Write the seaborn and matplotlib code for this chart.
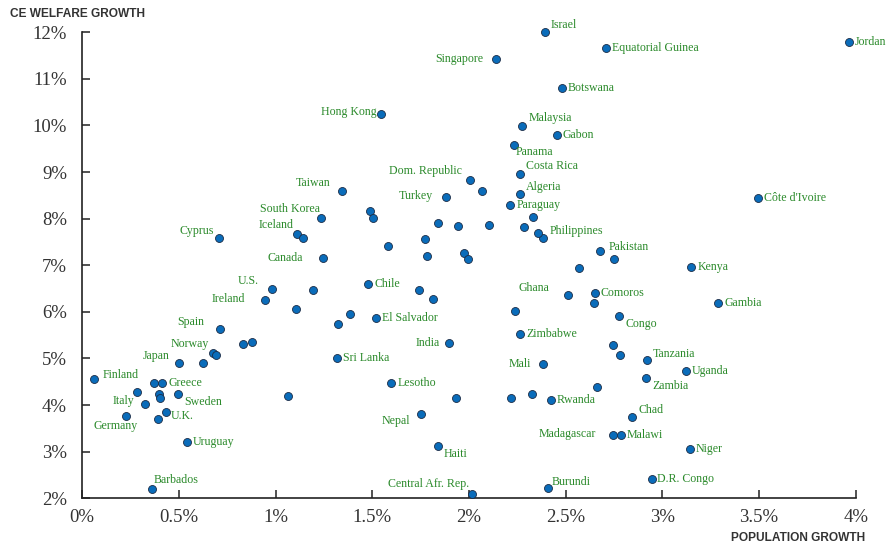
import numpy as np
import pandas as pd
import matplotlib
matplotlib.use('Agg')
import matplotlib.pyplot as plt
import seaborn as sns

# labelled countries: population growth (%), CE welfare growth (%)
countries = ['Israel', 'Equatorial Guinea', 'Jordan', 'Singapore', 'Botswana', 'Hong Kong',
             'Malaysia', 'Gabon', 'Panama', 'Costa Rica', 'Dom. Republic', 'Algeria', 'Taiwan',
             'Turkey', 'Paraguay', 'South Korea', 'Iceland', 'Cyprus', 'Philippines', 'Pakistan',
             'Canada', 'Kenya', "Côte d'Ivoire", 'Chile', 'U.S.', 'Ireland', 'El Salvador', 'Ghana',
             'Comoros', 'Gambia', 'Congo', 'Zimbabwe', 'India', 'Spain', 'Norway', 'Tanzania',
             'Sri Lanka', 'Mali', 'Japan', 'Uganda', 'Finland', 'Greece', 'Lesotho', 'Zambia',
             'Sweden', 'Italy', 'Rwanda', 'U.K.', 'Germany', 'Nepal', 'Chad', 'Madagascar',
             'Malawi', 'Uruguay', 'Haiti', 'Niger', 'D.R. Congo', 'Burundi', 'Barbados',
             'Central Afr. Rep.']
pop_growth = [2.393, 2.708, 3.966, 2.138, 2.479, 1.545, 2.276, 2.453, 2.231, 2.262, 2.007, 2.262,
              1.345, 1.880, 2.214, 1.233, 1.109, 0.707, 2.384, 2.677, 1.244, 3.149, 3.494, 1.478,
              0.980, 0.947, 1.521, 2.510, 2.650, 3.288, 2.776, 2.265, 1.897, 0.714, 0.678, 2.920,
              1.316, 2.383, 0.499, 3.122, 0.063, 0.414, 1.598, 2.915, 0.497, 0.323, 2.422, 0.432,
              0.225, 1.753, 2.844, 2.746, 2.786, 0.542, 1.840, 3.143, 2.945, 2.409, 0.359, 2.014]
welfare_growth = [12.00, 11.67, 11.79, 11.43, 10.80, 10.25, 9.98, 9.79, 9.58, 8.95, 8.83, 8.53,
                  8.59, 8.47, 8.30, 8.02, 7.67, 7.59, 7.58, 7.31, 7.15, 6.97, 8.44, 6.60, 6.50,
                  6.26, 5.87, 6.37, 6.41, 6.20, 5.92, 5.52, 5.34, 5.64, 5.11, 4.96, 5.01, 4.89,
                  4.90, 4.73, 4.55, 4.48, 4.48, 4.58, 4.24, 4.03, 4.10, 3.86, 3.76, 3.81, 3.75,
                  3.36, 3.36, 3.21, 3.12, 3.06, 2.41, 2.23, 2.20, 2.10]

# unlabelled countries
other_pop = [2.067, 2.329, 1.488, 1.502, 1.841, 1.945, 2.105, 2.284, 2.355, 1.140, 1.583, 1.771,
             1.783, 1.976, 1.996, 2.751, 2.569, 1.195, 1.743, 1.815, 2.645, 2.236, 1.107, 1.385,
             1.324, 0.830, 0.876, 0.692, 2.745, 2.782, 0.623, 0.373, 0.283, 0.396, 0.402, 1.064,
             1.934, 2.216, 2.324, 2.660, 0.390]
other_welfare = [8.60, 8.04, 8.17, 8.01, 7.91, 7.85, 7.86, 7.83, 7.70, 7.59, 7.42, 7.57, 7.20,
                 7.27, 7.13, 7.14, 6.94, 6.46, 6.48, 6.27, 6.19, 6.01, 6.06, 5.96, 5.75, 5.32,
                 5.36, 5.08, 5.30, 5.07, 4.91, 4.47, 4.28, 4.24, 4.15, 4.19, 4.15, 4.16, 4.23,
                 4.39, 3.71]

x_ticks = [0, 0.5, 1, 1.5, 2, 2.5, 3, 3.5, 4]
x_ticklabels = ['0%', '0.5%', '1%', '1.5%', '2%', '2.5%', '3%', '3.5%', '4%']
y_ticks = [2, 3, 4, 5, 6, 7, 8, 9, 10, 11, 12]
y_ticklabels = [f'{v}%' for v in y_ticks]

# label placement (pixel offset from dot, horizontal alignment)
label_pos = {
    'Israel': (6, 7, 'left'), 'Equatorial Guinea': (6, 0, 'left'), 'Jordan': (6, 0, 'left'),
    'Singapore': (-12, 0, 'right'), 'Botswana': (6, 0, 'left'), 'Hong Kong': (-4, 2, 'right'),
    'Malaysia': (6, 8, 'left'), 'Gabon': (6, 0, 'left'), 'Panama': (2, -7, 'left'),
    'Costa Rica': (6, 8, 'left'), 'Dom. Republic': (-8, 9, 'right'), 'Algeria': (6, 7, 'left'),
    'Taiwan': (-12, 8, 'right'), 'Turkey': (-13, 1, 'right'), 'Paraguay': (6, 0, 'left'),
    'South Korea': (-1, 9, 'right'), 'Iceland': (-3, 9, 'right'), 'Cyprus': (-5, 7, 'right'),
    'Philippines': (6, 7, 'left'), 'Pakistan': (9, 4, 'left'), 'Canada': (-20, 0, 'right'),
    'Kenya': (6, 0, 'left'), "Côte d'Ivoire": (6, 0, 'left'), 'Chile': (6, 0, 'left'),
    'U.S.': (-13, 8, 'right'), 'Ireland': (-20, 1, 'right'), 'El Salvador': (6, 0, 'left'),
    'Ghana': (-18, 7, 'right'), 'Comoros': (6, 0, 'left'), 'Gambia': (6, 0, 'left'),
    'Congo': (6, -8, 'left'), 'Zimbabwe': (6, 0, 'left'), 'India': (-9, 0, 'right'),
    'Spain': (-16, 7, 'right'), 'Norway': (-4, 9, 'right'), 'Tanzania': (6, 6, 'left'),
    'Sri Lanka': (6, 0, 'left'), 'Mali': (-12, 0, 'right'), 'Japan': (-9, 7, 'right'),
    'Uganda': (6, 0, 'left'), 'Finland': (8, 4, 'left'), 'Greece': (6, 0, 'left'),
    'Lesotho': (6, 0, 'left'), 'Zambia': (6, -8, 'left'), 'Sweden': (6, -8, 'left'),
    'Italy': (-10, 3, 'right'), 'Rwanda': (6, 0, 'left'), 'U.K.': (5, -4, 'left'),
    'Germany': (12, -10, 'right'), 'Nepal': (-11, -7, 'right'), 'Chad': (6, 7, 'left'),
    'Madagascar': (-17, 1, 'right'), 'Malawi': (6, 0, 'left'), 'Uruguay': (6, 0, 'left'),
    'Haiti': (6, -8, 'left'), 'Niger': (6, 0, 'left'), 'D.R. Congo': (5, 0, 'left'),
    'Burundi': (4, 6, 'left'), 'Barbados': (2, 9, 'left'), 'Central Afr. Rep.': (-3, 10, 'right'),
}

df = pd.DataFrame({'pop': pop_growth + other_pop, 'welfare': welfare_growth + other_welfare})

sns.set_style('ticks')
plt.rcParams['font.family'] = ['Liberation Serif', 'DejaVu Serif']

fig = plt.figure(figsize=(8.88, 5.46), dpi=100)
ax = fig.add_axes([82.2 / 888, 47.7 / 546, (855.7 - 82.2) / 888, (498.3 - 32.3) / 546])

dot_blue = '#0a6cba'
label_green = '#2b8a2b'
sns.scatterplot(data=df, x='pop', y='welfare', ax=ax, s=33, color=dot_blue,
                edgecolor='#1b2b45', linewidth=0.6, clip_on=False, zorder=3, legend=False)

for name, xv, yv in zip(countries, pop_growth, welfare_growth):
    dx, dy, ha = label_pos[name]
    ax.annotate(name, (xv, yv), xytext=(dx, dy), textcoords='offset pixels',
                ha=ha, va='center', fontsize=8.6, color=label_green, annotation_clip=False)

ax.set_xlim(0, 4)
ax.set_ylim(2, 12)
ax.set_xticks(x_ticks)
ax.set_xticklabels(x_ticklabels)
ax.set_yticks(y_ticks)
ax.set_yticklabels(y_ticklabels)
ax.set_xlabel('')
ax.set_ylabel('')
ax.tick_params(direction='in', length=6, width=1.1, color='#222222',
               labelsize=13.5, labelcolor='#333333')
ax.tick_params(axis='y', pad=11)
ax.tick_params(axis='x', pad=8)
sns.despine(ax=ax)
for side in ['left', 'bottom']:
    ax.spines[side].set_color('#222222')
    ax.spines[side].set_linewidth(1.2)

fig.text(10 / 888, 1 - 14 / 546, 'CE WELFARE GROWTH', ha='left', va='center',
         fontsize=8.6, fontweight='bold', color='#333333', family=['Liberation Sans', 'DejaVu Sans'])
fig.text(865 / 888, 1 - 538 / 546, 'POPULATION GROWTH', ha='right', va='center',
         fontsize=8.6, fontweight='bold', color='#333333', family=['Liberation Sans', 'DejaVu Sans'])

fig.savefig('out.png', dpi=100)
